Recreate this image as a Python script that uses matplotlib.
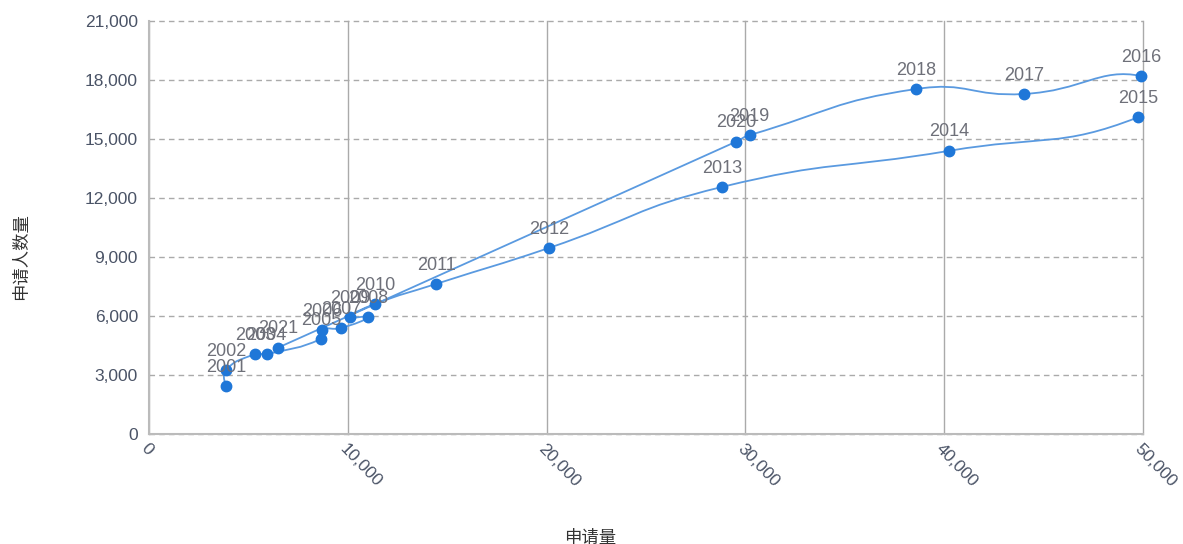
import matplotlib
matplotlib.use('Agg')
import matplotlib.pyplot as plt
import numpy as np
from matplotlib.path import Path
from matplotlib.patches import PathPatch
from matplotlib.ticker import FuncFormatter

plt.rcParams['font.family'] = ['Liberation Sans', 'Noto Sans CJK SC', 'DejaVu Sans']

# year labels, application count (x) and applicant count (y)
years = ['2001', '2002', '2003', '2004', '2005', '2006', '2007', '2008', '2009', '2010', '2011',
         '2012', '2013', '2014', '2015', '2016', '2017', '2018', '2019', '2020', '2021']
applications = [3870, 3870, 5330, 5920, 8650, 8700, 9660, 11020, 10110, 11370, 14440,
                20120, 28820, 40260, 49750, 49930, 44030, 38580, 30220, 29530, 6490]
applicants = [2440, 3250, 4060, 4060, 4830, 5290, 5390, 5950, 5950, 6610, 7630,
              9460, 12560, 14400, 16100, 18200, 17290, 17540, 15200, 14860, 4390]

x_ticks = [0, 10000, 20000, 30000, 40000, 50000]
y_ticks = [0, 3000, 6000, 9000, 12000, 15000, 18000, 21000]

point_color = '#1f77d8'
line_color = '#5a9ae0'
tick_color = '#4a5366'
label_color = '#6e7079'


def smooth_path(xs, ys, sx, sy, smooth=0.5):
    """Bezier control points like echarts' smooth line, computed in pixel-like units."""
    p = np.column_stack([np.asarray(xs) * sx, np.asarray(ys) * sy])
    n = len(p)
    verts = [p[0]]
    codes = [Path.MOVETO]
    cps = []
    for i in range(n):
        if i == 0 or i == n - 1:
            cps.append((p[i], p[i]))
            continue
        v = p[i + 1] - p[i - 1]
        d0 = np.linalg.norm(p[i] - p[i - 1])
        d1 = np.linalg.norm(p[i + 1] - p[i])
        tot = d0 + d1 if d0 + d1 > 0 else 1
        cps.append((p[i] - v * smooth * d0 / tot, p[i] + v * smooth * d1 / tot))
    for i in range(n - 1):
        verts += [cps[i][1], cps[i + 1][0], p[i + 1]]
        codes += [Path.CURVE4] * 3
    verts = np.array(verts)
    verts[:, 0] /= sx
    verts[:, 1] /= sy
    return Path(verts, codes)


fig = plt.figure(figsize=(11.83, 5.44), dpi=100)
ax = fig.add_axes([0.126, 0.2022, 0.840, 0.7592])

ax.set_xlim(0, 50000)
ax.set_ylim(0, 21000)
ax.set_xticks(x_ticks)
ax.set_yticks(y_ticks)

fmt = FuncFormatter(lambda v, _: f'{int(v):,}')
ax.xaxis.set_major_formatter(fmt)
ax.yaxis.set_major_formatter(fmt)

ax.yaxis.grid(True, color='#aaaaaa', linestyle=(0, (4, 3)), linewidth=1)
ax.xaxis.grid(True, color='#aaaaaa', linestyle='-', linewidth=1)
ax.set_axisbelow(True)
for gl in ax.get_xgridlines() + ax.get_ygridlines():
    gl.set_clip_on(False)
for side in ['top', 'right']:
    ax.spines[side].set_visible(False)
for side in ['left', 'bottom']:
    ax.spines[side].set_color('#bbbbbb')
    ax.spines[side].set_linewidth(1.5)

ax.tick_params(axis='both', length=0, colors=tick_color, labelsize=12.5)
ax.tick_params(axis='y', pad=8)
ax.tick_params(axis='x', pad=5)
for lab in ax.get_xticklabels():
    lab.set_rotation(-46)
    lab.set_ha('left')
    lab.set_va('top')
    lab.set_rotation_mode('anchor')

# smooth connecting line (in pixel-proportional units so curvature looks right)
sx = 994 / 50000
sy = 413 / 21000
path = smooth_path(applications, applicants, sx, sy)
ax.add_patch(PathPatch(path, facecolor='none', edgecolor=line_color, linewidth=1.3, zorder=2))

ax.plot(applications, applicants, linestyle='none', marker='o', markersize=7.5,
        color=point_color, zorder=3, clip_on=False)

for yr, xv, yv in zip(years, applications, applicants):
    ax.annotate(yr, (xv, yv), xytext=(0, 7.5), textcoords='offset points',
                ha='center', va='bottom', fontsize=13, color=label_color, zorder=4)

ax.set_xlabel('申请量', fontsize=12.5, color='#333333', family=['Noto Sans CJK SC'])
ax.set_ylabel('申请人数量', fontsize=12.5, color='#333333', family=['Noto Sans CJK SC'])
ax.xaxis.set_label_coords(0.444, -0.230)
ax.yaxis.set_label_coords(-0.120, 0.43)

fig.savefig('out.png', dpi=100)
